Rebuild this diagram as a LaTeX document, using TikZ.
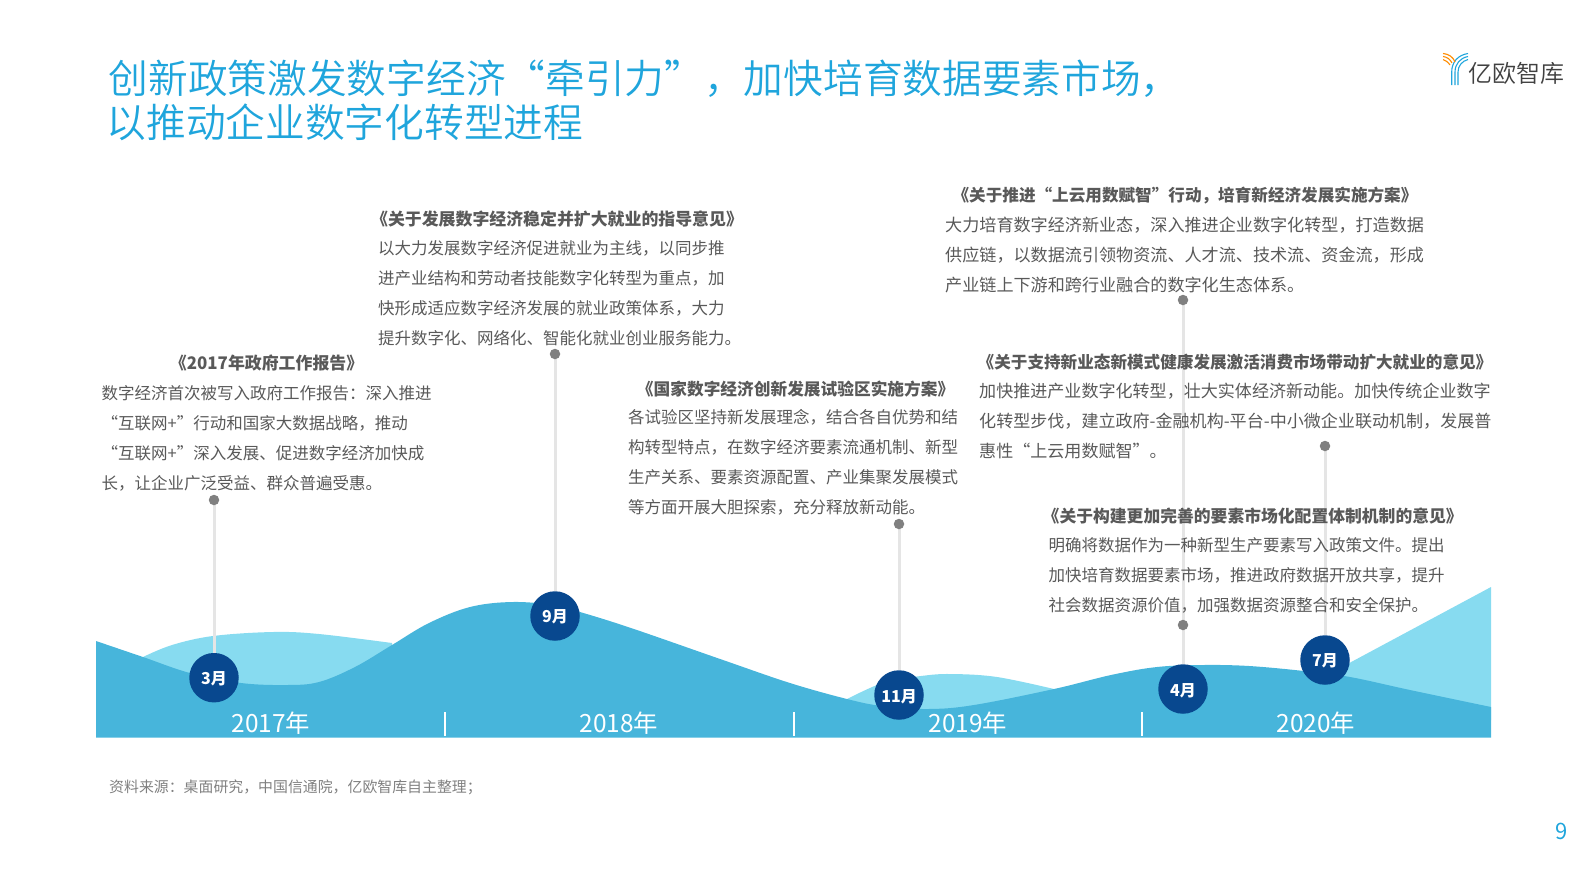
\documentclass[tikz,border=0pt]{standalone}
\usepackage{fontspec}
\setmainfont{Noto Sans CJK SC}[Language=Chinese Simplified]
\newfontfamily\lightcjk{Noto Sans CJK SC DemiLight}[Language=Chinese Simplified]
\definecolor{wavedark}{HTML}{47B5DB}
\definecolor{wavelight}{HTML}{87DBF0}
\definecolor{monthblue}{HTML}{08488F}
\definecolor{bodygrey}{HTML}{595959}
\definecolor{titleblue}{HTML}{1FA5DC}
\tikzset{
  bodytext/.style={anchor=west,align=left,inner sep=0pt,text=bodygrey,font=\fontsize{16.5}{30}\selectfont},
  bodywide/.style={bodytext,font=\fontsize{17.1}{30}\selectfont},
  headtext/.style={anchor=center,inner sep=0pt,text=bodygrey,font=\fontsize{16.8}{20}\selectfont\bfseries},
  month/.style={circle,fill=monthblue,minimum size=49.5pt,inner sep=0pt,text=white},
  monthlabel/.style={inner sep=0pt,text=white,font=\fontsize{16}{18}\selectfont\bfseries},
  stem/.style={draw=black!10,line width=3pt},
  pin/.style={circle,fill=black!50,minimum size=10.5pt,inner sep=0pt},
  yeartext/.style={inner sep=0pt,text=white,font=\fontsize{24.4}{28}\selectfont},
  sep/.style={draw=white,line width=2pt},
  logoblue/.style={draw=titleblue,line width=1.1pt},
  logoorange/.style={draw=orange!90!yellow,line width=1.1pt}
}
\begin{document}
\begin{tikzpicture}[x=1pt,y=-1pt]
\useasboundingbox (0,0) rectangle (1587,892);
% light waves
\fill[wavelight] plot[smooth,tension=0.6] coordinates {(143,657) (172,645) (213,636) (273,632) (319,634) (392,643)} -- (392,700) -- (143,700) -- cycle;
\fill[wavelight] plot[smooth,tension=0.6] coordinates {(847,699) (885,682) (921,676) (951,674) (997,677) (1054,689)} -- (1054,720) -- (847,720) -- cycle;
\fill[wavelight] (1340,668) -- (1491,587) -- (1491,720) -- (1340,720) -- cycle;
% dark wave
\fill[wavedark] (96,737.7) -- (96,641) -- plot[smooth,tension=0.6] coordinates {(96,641) (143,657) (190,673) (241,683) (287,685) (319,682) (355,667) (392,645) (429,623) (470,607) (512,602) (553,605) (580,612) (631,628) (723,660) (790,683) (847,699) (882,706) (928,709) (974,705) (1054,689) (1111,675) (1157,667) (1203,665) (1249,666) (1304,671) (1350,677) (1410,690) (1491,707)} -- (1491,737.7) -- cycle;
% separators
\coordinate (s1a) at (445,712); \coordinate (s1b) at (445,736);
\coordinate (s2a) at (794,712); \coordinate (s2b) at (794,736);
\coordinate (s3a) at (1142,712); \coordinate (s3b) at (1142,736);
\draw[sep] (s1a) -- (s1b);
\draw[sep] (s2a) -- (s2b);
\draw[sep] (s3a) -- (s3b);
\node[yeartext] (y17) at (271,722.7) {2017年};
\node[yeartext] (y18) at (619,722.7) {2018年};
\node[yeartext] (y19) at (968,722.7) {2019年};
\node[yeartext] (y20) at (1316,722.7) {2020年};
% months
\node[month] (m3) at (214,677.7) {};
\node[month] (m9) at (555,616) {};
\node[month] (m11) at (899,695) {};
\node[month] (m4) at (1183,689) {};
\node[month] (m7) at (1325,660) {};
\node[monthlabel] (l3) at (214,679) {3月};
\node[monthlabel] (l9) at (555,617) {9月};
\node[monthlabel] (l11) at (899,696.5) {11月};
\node[monthlabel] (l4) at (1183,690.5) {4月};
\node[monthlabel] (l7) at (1325,661) {7月};
% stems and pins
\coordinate (c3) at (214,500);
\coordinate (c9) at (555,354);
\coordinate (c11) at (899,524);
\coordinate (c4) at (1183,300);
\coordinate (c7) at (1325,446);
\draw[stem] (c3) -- (m3);
\draw[stem] (c9) -- (m9);
\draw[stem] (c11) -- (m11);
\draw[stem] (c4) -- (m4);
\draw[stem] (c7) -- (m7);
\node[pin] (p3) at (c3) {};
\node[pin] (p9) at (c9) {};
\node[pin] (p11) at (c11) {};
\node[pin] (p4a) at (c4) {};
\node[pin] (p7) at (c7) {};
\node[pin] (p4b) at (1183,625) {};
% title
\node[anchor=west,align=left,inner sep=0pt,text=titleblue,font=\lightcjk\fontsize{39.7}{44}\selectfont] (title) at (108.5,100) {创新政策激发数字经济“牵引力”，加快培育数据要素市场，\\\hspace*{-2pt}以推动企业数字化转型进程};
% logo
\draw[logoblue] (1451.7,85) -- (1451.7,72) .. controls (1451.7,62) and (1458,55) .. (1468,53.5);
\draw[logoblue] (1455,85) -- (1455,72) .. controls (1455,64) and (1460,58) .. (1468,56.5);
\draw[logoblue] (1458,85) -- (1458,72) .. controls (1458,66) and (1462,61) .. (1468,59.5);
\draw[logoorange] (1443,53.5) .. controls (1449,54) and (1453,57) .. (1455,62);
\draw[logoorange] (1443,56.5) .. controls (1447,57) and (1450,59) .. (1452,63);
\draw[logoorange] (1443,59.5) .. controls (1445,60) and (1448,62) .. (1450,65);
\node[anchor=west,inner sep=0pt,text=black!75,font=\lightcjk\fontsize{24}{26}\selectfont] (logo) at (1468,73.5) {亿欧智库};
% 2017
\node[headtext,font=\fontsize{16.9}{20}\selectfont\bfseries] (h1) at (266.6,363) {《2017年政府工作报告》};
\node[bodytext] (b1) at (101.4,438) {数字经济首次被写入政府工作报告：深入推进\\“互联网+”行动和国家大数据战略，推动\\“互联网+”深入发展、促进数字经济加快成\\长，让企业广泛受益、群众普遍受惠。};
% 2018
\node[headtext,font=\fontsize{16.9}{20}\selectfont\bfseries] (h2) at (557,219) {《关于发展数字经济稳定并扩大就业的指导意见》};
\node[bodytext] (b2) at (378,293) {以大力发展数字经济促进就业为主线，以同步推\\进产业结构和劳动者技能数字化转型为重点，加\\快形成适应数字经济发展的就业政策体系，大力\\提升数字化、网络化、智能化就业创业服务能力。};
% 2019
\node[headtext,font=\fontsize{16.7}{20}\selectfont\bfseries] (h3) at (795.6,389) {《国家数字经济创新发展试验区实施方案》};
\node[bodytext] (b3) at (628,462.5) {各试验区坚持新发展理念，结合各自优势和结\\构转型特点，在数字经济要素流通机制、新型\\生产关系、要素资源配置、产业集聚发展模式\\等方面开展大胆探索，充分释放新动能。};
% 2020-4
\node[headtext,font=\fontsize{16.6}{20}\selectfont\bfseries] (h4) at (1185,196) {《关于推进“上云用数赋智”行动，培育新经济发展实施方案》};
\node[bodywide] (b4) at (945,255) {大力培育数字经济新业态，深入推进企业数字化转型，打造数据\\供应链，以数据流引领物资流、人才流、技术流、资金流，形成\\产业链上下游和跨行业融合的数字化生态体系。};
% 2020-7
\node[headtext,font=\fontsize{16.6}{20}\selectfont\bfseries] (h5) at (1235,362) {《关于支持新业态新模式健康发展激活消费市场带动扩大就业的意见》};
\node[bodywide,font=\fontsize{17.05}{30}\selectfont] (b5) at (979,421) {加快推进产业数字化转型，壮大实体经济新动能。加快传统企业数字\\化转型步伐，建立政府-金融机构-平台-中小微企业联动机制，发展普\\惠性“上云用数赋智”。};
% 2020-4 second
\node[headtext] (h6) at (1252.7,516) {《关于构建更加完善的要素市场化配置体制机制的意见》};
\node[bodytext] (b6) at (1048.5,575) {明确将数据作为一种新型生产要素写入政策文件。提出\\加快培育数据要素市场，推进政府数据开放共享，提升\\社会数据资源价值，加强数据资源整合和安全保护。};
% source and page
\node[anchor=west,inner sep=0pt,text=black!50,font=\fontsize{14.9}{18}\selectfont] (src) at (109,787.5) {资料来源：桌面研究，中国信通院，亿欧智库自主整理；};
\node[inner sep=0pt,text=titleblue,font=\fontsize{22}{26}\selectfont] (page) at (1562,831) {9};
\end{tikzpicture}
\end{document}
